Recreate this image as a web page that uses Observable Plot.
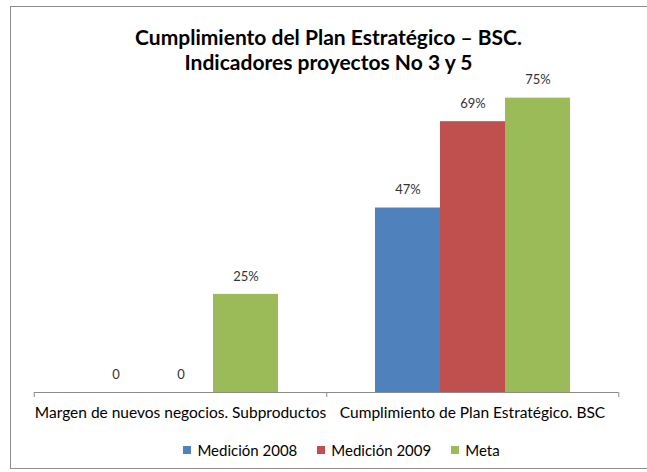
<!DOCTYPE html>
<html>
<head>
<meta charset="utf-8">
<script src="https://cdn.jsdelivr.net/npm/d3@7"></script>
<script src="https://cdn.jsdelivr.net/npm/@observablehq/plot@0.6"></script>
<style>
  html, body { margin: 0; padding: 0; background: #fff; width: 647px; height: 472px; overflow: hidden; }
  #box { position: absolute; left: 10px; top: 6px; width: 637px; height: 463px; border: 1px solid #8c8c8c; border-right: none; box-sizing: border-box; }
  #title { position: absolute; left: 10px; top: 24px; width: 637px; text-align: center; font-family: Lato, sans-serif; font-weight: bold; font-size: 21px; line-height: 25px; color: #000; }
  #chart { position: absolute; left: 0; top: 0; width: 647px; height: 430px; overflow: hidden; }
  #legend { position: absolute; left: 0; top: 441px; width: 647px; display: flex; justify-content: center; gap: 20px; font-family: Lato, sans-serif; font-size: 15px; color: #000; padding-left: 36px; box-sizing: border-box; }
  #legend span.item { display: inline-flex; align-items: center; gap: 6px; }
  #legend span.sw { display: inline-block; width: 8px; height: 8px; }
</style>
</head>
<body>
<div id="box"></div>
<div id="chart"></div>
<div id="title">Cumplimiento del Plan Estratégico – BSC.<br>Indicadores proyectos No 3 y 5</div>
<div id="legend"></div>
<script>
const categories = ["Margen de nuevos negocios. Subproductos", "Cumplimiento de Plan Estratégico. BSC"];
const series = ["Medición 2008", "Medición 2009", "Meta"];
const colors = ["#4F81BD", "#C0504D", "#9BBB59"];
const medicion2008 = [0, 47];
const medicion2009 = [0, 69];
const meta = [25, 75];

const values = [medicion2008, medicion2009, meta];
const data = [];
categories.forEach((c, ci) => series.forEach((s, si) => data.push({category: c, series: s, value: values[si][ci]})));
const fmt = v => v === 0 ? "0" : v + "%";

const W = 647, mL = 33, mR = 29;
const facetHalf = (W - mL - mR) / categories.length / 2;

const chart = Plot.plot({
  width: W,
  height: 430,
  marginTop: 78,
  marginBottom: 38,
  marginLeft: mL,
  marginRight: mR,
  fx: {domain: categories, padding: 0, axis: null},
  x: {domain: series, paddingInner: 0, paddingOuter: 0.74, axis: null},
  y: {domain: [0, 80], axis: null},
  color: {domain: series, range: colors},
  style: {fontFamily: "Lato, sans-serif"},
  marks: [
    Plot.barY(data, {fx: "category", x: "series", y: "value", fill: "series"}),
    Plot.text(data, {fx: "category", x: "series", y: "value", text: d => fmt(d.value), dy: -18, fontSize: 13, fill: "#333"}),
    Plot.ruleY([0], {stroke: "#8c8c8c"}),
    Plot.ruleX([categories[0]], {fx: d => d, x: null, y1: 0, y2: 0, insetBottom: -5, dx: -facetHalf, stroke: "#8c8c8c"}),
    Plot.ruleX(categories, {fx: d => d, x: null, y1: 0, y2: 0, insetBottom: -5, dx: facetHalf, stroke: "#8c8c8c"}),
    Plot.text(categories, {fx: d => d, text: d => d, frameAnchor: "bottom", dy: 25, fontSize: 15.5, fill: "#000"})
  ]
});
document.getElementById("chart").appendChild(chart);

const legend = document.getElementById("legend");
series.forEach((s, i) => {
  const item = document.createElement("span");
  item.className = "item";
  const sw = document.createElement("span");
  sw.className = "sw";
  sw.style.background = colors[i];
  item.appendChild(sw);
  item.appendChild(document.createTextNode(s));
  legend.appendChild(item);
});
</script>
</body>
</html>
